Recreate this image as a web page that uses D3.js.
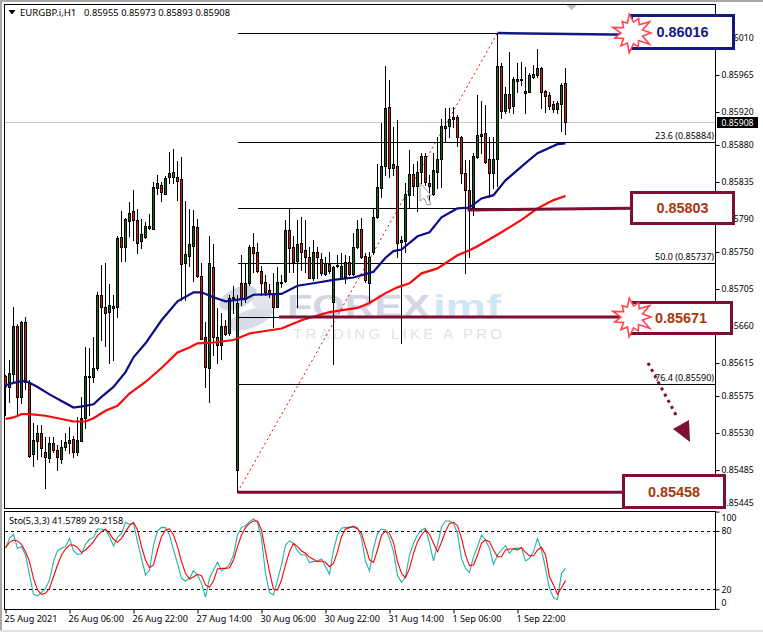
<!DOCTYPE html>
<html><head><meta charset="utf-8">
<script src="https://cdn.jsdelivr.net/npm/d3@7/dist/d3.min.js"></script>
<style>
html,body{margin:0;padding:0;background:#fff}
svg{display:block}
text{font-family:"Noto Sans",sans-serif;fill:#000}
</style></head><body><svg id="c" width="763" height="632"></svg>
<script>
// prices in points (1/100000)
const openPts=[85599,85586,85602,85660,85574,85665,85592,85504,85520,85530,
85507,85500,85518,85509,85498,85513,85517,85523,85506,85520,
85548,85599,85598,85609,85698,85683,85676,85684,85683,85768,
85756,85787,85800,85789,85763,85768,85781,85778,85828,85831,
85820,85841,85847,85841,85839,85736,85746,85757,85780,85721,
85647,85609,85732,85647,85637,85660,85651,85694,85485,85712,
85692,85712,85756,85750,85727,85713,85704,85700,85683,85713,
85715,85777,85756,85739,85761,85752,85744,85718,85750,85741,
85723,85735,85690,85733,85718,85718,85738,85723,85756,85778,
85745,85713,85750,85792,85828,85855,85926,85852,85855,85761,
85763,85819,85845,85830,85847,85866,85834,85820,85847,85863,
85903,85902,85911,85914,85890,85846,85825,85804,85865,85891,
85894,85863,85846,85863,85976,85921,85942,85927,85958,85960,
85943,85944,85962,85964,85973,85945,85941,85930,85924,85930,
85955];
const highPts=[85600,85619,85683,85662,85666,85671,85594,85542,85540,85540,
85525,85525,85525,85515,85521,85530,85537,85527,85549,85574,
85634,85633,85647,85701,85734,85736,85711,85698,85769,85800,
85791,85811,85825,85802,85790,85786,85796,85835,85843,85835,
85842,85871,85875,85860,85865,85812,85802,85801,85790,85736,
85665,85770,85760,85682,85676,85667,85698,85709,85698,85746,
85736,85758,85773,85761,85733,85722,85711,85724,85732,85722,
85789,85804,85770,85789,85792,85789,85756,85764,85756,85749,
85744,85750,85733,85746,85749,85746,85745,85773,85789,85791,
85749,85750,85803,85857,85907,85976,85959,85902,85910,85770,
85834,85874,85857,85860,85870,85870,85843,85870,85890,85911,
85925,85925,85926,85916,85891,85862,85862,85870,85941,85934,
85928,85890,85890,86016,85979,85950,85993,85962,85979,85981,
85975,85967,85977,85996,85975,85947,85944,85934,85934,85955,
85973];
const lowPts=[85552,85568,85591,85552,85566,85583,85501,85490,85498,85502,
85463,85495,85507,85485,85493,85509,85506,85501,85503,85520,
85536,85552,85592,85606,85643,85636,85615,85619,85671,85739,
85739,85770,85764,85749,85755,85767,85778,85778,85820,85812,
85820,85834,85834,85813,85692,85692,85733,85715,85719,85644,
85586,85568,85625,85615,85620,85649,85649,85676,85458,85685,
85689,85710,85726,85726,85698,85698,85695,85659,85683,85707,
85713,85726,85726,85683,85728,85726,85718,85716,85718,85722,
85722,85724,85614,85732,85718,85712,85722,85722,85755,85743,
85713,85689,85747,85791,85817,85843,85841,85843,85744,85639,
85750,85804,85819,85800,85834,85831,85808,85819,85828,85829,
85885,85890,85902,85879,85834,85724,85744,85795,85864,85870,
85858,85817,85828,85830,85913,85919,85920,85919,85944,85953,
85919,85944,85961,85962,85925,85920,85924,85920,85919,85897,
85893];
const closePts=[85587,85603,85660,85574,85665,85592,85502,85521,85530,85512,
85501,85518,85509,85500,85513,85519,85521,85507,85521,85548,
85599,85598,85609,85698,85683,85676,85685,85682,85767,85756,
85790,85797,85789,85761,85772,85781,85778,85829,85834,85822,
85840,85846,85841,85836,85736,85747,85760,85781,85721,85645,
85611,85736,85647,85637,85660,85650,85694,85695,85688,85692,
85712,85756,85749,85727,85712,85701,85700,85683,85713,85714,
85777,85755,85738,85760,85750,85744,85718,85750,85744,85724,
85736,85726,85732,85734,85733,85738,85724,85756,85778,85744,
85716,85744,85792,85829,85855,85925,85852,85857,85761,85764,
85820,85845,85830,85847,85866,85834,85830,85849,85863,85903,
85900,85911,85914,85890,85846,85825,85806,85866,85892,85893,
85859,85846,85863,85976,85921,85942,85925,85960,85960,85959,
85945,85965,85966,85973,85944,85939,85928,85924,85931,85953,
85908];
const maBlueBars=[0,2,4,5,6,8,11,14,17,20,22,24,27,30,32,35,39,43,47,49,52,55,58,60,62,69,73,77,82,87,92,95,97,99,103,106,109,113,116,119,122,125,130,133,138,140];
const maBluePts=[85588,85591,85593,85593,85591,85586,85577,85569,85561,85563,85565,85574,85586,85604,85622,85639,85667,85690,85701,85701,85695,85690,85692,85693,85698,85699,85709,85712,85716,85719,85726,85743,85751,85753,85769,85774,85792,85803,85804,85815,85819,85837,85858,85870,85881,85882];
const maRedBars=[0,2,4,6,10,14,17,20,22,25,28,31,35,39,43,46,48,52,57,59,61,69,74,81,88,91,95,98,101,104,108,113,116,118,124,129,133,137,140];
const maRedPts=[85547,85549,85553,85553,85551,85547,85544,85544,85548,85557,85563,85578,85592,85609,85628,85634,85639,85640,85643,85647,85651,85657,85667,85677,85682,85688,85700,85707,85712,85724,85730,85746,85752,85757,85774,85789,85803,85813,85818];
const stoMain=[62.2,72.5,76.6,62.2,63.9,55.4,34.8,14.9,13.2,16.9,21.0,29.6,48.5,59.8,62.2,63.9,72.5,59.5,56.0,56.4,66.3,71.5,73.2,82.1,82.1,81.1,74.2,64.6,73.5,77.6,89.0,86.9,87.9,69.1,51.9,34.8,39.9,65.6,80.0,83.8,83.5,75.9,60.5,46.8,31.3,28.6,31.3,39.2,34.8,26.2,11.8,31.3,39.9,47.8,39.2,41.6,45.7,55.4,75.9,83.8,85.5,89.7,92.4,89.0,72.5,36.5,16.6,14.2,29.6,45.1,65.6,69.8,67.4,
59.5,55.4,55.4,47.5,48.5,49.2,51.2,43.3,35.5,60.5,75.9,82.8,83.8,83.8,85.2,83.5,72.5,49.2,38.9,62.2,77.6,82.1,81.1,72.5,58.8,34.1,27.2,33.0,55.4,67.4,75.9,81.1,82.8,67.4,49.2,65.6,84.5,90.3,90.3,87.9,77.6,51.9,41.6,37.5,53.6,63.9,75.9,70.8,62.2,45.7,55.4,60.5,65.0,57.1,62.2,62.2,62.9,49.2,51.9,58.8,72.5,60.5,41.6,21.0,11.4,9.4,36.5,41.58];
const stoSignal=[62.9,68.4,70.8,69.8,66.3,58.8,48.5,31.3,19.3,14.9,15.9,21.0,33.0,45.1,55.4,61.5,65.6,65.6,63.2,57.8,60.5,64.6,69.1,75.2,79.4,81.8,77.6,71.5,68.4,72.5,79.4,85.5,89.0,81.1,63.9,50.2,42.3,45.1,60.5,74.2,81.1,82.1,75.9,63.9,48.5,36.5,30.7,33.0,35.5,34.1,24.5,22.1,28.6,41.0,41.6,41.6,42.3,50.2,63.9,75.9,83.5,87.9,90.3,90.3,81.1,58.8,38.2,20.0,19.3,29.6,45.1,58.8,67.4,
63.9,59.5,57.1,53.0,50.9,48.5,49.2,47.8,43.3,46.8,58.8,74.2,82.1,83.5,84.5,82.1,77.6,63.9,50.2,47.8,60.5,75.9,80.0,77.6,68.4,48.5,36.5,32.0,41.6,57.1,69.1,75.9,81.1,76.6,67.4,58.8,68.4,79.4,87.9,89.0,85.5,72.5,55.4,44.4,45.1,55.4,67.4,70.8,69.1,60.5,53.6,53.6,60.5,61.5,61.5,60.5,62.9,58.1,54.7,54.3,60.5,63.2,55.4,33.0,24.5,14.9,21.7,29.2158];
const priceTicks=[86010,85965,85920,85880,85835,85790,85750,85705,85660,85615,85575,85530,85485,85445];
const timeBars=[0,16,32,48,64,80,96,112,128];
const timeLabels=["25 Aug 2021","26 Aug 06:00","26 Aug 22:00","27 Aug 14:00","30 Aug 06:00","30 Aug 22:00","31 Aug 14:00","1 Sep 06:00","1 Sep 22:00"];
const stoTicks=[100,80,20,0];
const fibLevels=[86016,85884,85803,85737,85671,85590];
const fibLabels=[null,"23.6 (0.85884)",null,"50.0 (0.85737)",null,"76.4 (0.85590)"];
const fibBars=[58,123];
const fibHigh=86016, fibLow=85458, lastClose=85908;
const boxes=[{v:86016,label:"0.86016",kind:"blue"},{v:85803,label:"0.85803",kind:"red"},{v:85671,label:"0.85671",kind:"red"},{v:85458,label:"0.85458",kind:"red"}];
const headerName="EURGBP.i,H1", headerValues="0.85955 0.85973 0.85893 0.85908", stoTitle="Sto(5,3,3) 41.5789 29.2158";

const svg=d3.select("#c");
const x=d3.scaleLinear().domain([0,140]).range([5.5,565.5]);
const y=d3.scaleLinear().domain([85445,85965]).range([503,75]);
const ys=d3.scaleLinear().domain([0,100]).range([608.8,511.6]);
const NAVY="#14187e", MAROON="#7d0f30", TXT="#a8380e";
const rp=v=>Math.round(v)+.5;

// window edges
svg.append("rect").attr("x",0).attr("y",0).attr("width",763).attr("height",2).attr("fill","#a8a8a8");
svg.append("rect").attr("x",0).attr("y",0).attr("width",2).attr("height",632).attr("fill","#a8a8a8");
svg.append("rect").attr("x",0).attr("y",630).attr("width",763).attr("height",2).attr("fill","#e2e2e2");

svg.append("clipPath").attr("id","m").append("rect").attr("x",5).attr("y",5).attr("width",710).attr("height",503);

// watermark
const wm=svg.append("g");
wm.append("ellipse").attr("cx",238).attr("cy",298).attr("rx",20).attr("ry",10).attr("transform","rotate(-25 238 298)").attr("fill","#d4d6e2");
wm.append("ellipse").attr("cx",250).attr("cy",319).attr("rx",24).attr("ry",9).attr("transform","rotate(-20 250 319)").attr("fill","#d9dbe6");
wm.append("ellipse").attr("cx",266).attr("cy",302).attr("rx",14).attr("ry",8).attr("fill","#e3e5ee");
wm.append("text").attr("x",287).attr("y",317).attr("textLength",143).attr("lengthAdjust","spacingAndGlyphs")
  .style("font","bold 31px 'Liberation Sans'").style("fill","#d3d6e4").text("FOREX");
wm.append("text").attr("x",433).attr("y",317).attr("textLength",68).attr("lengthAdjust","spacingAndGlyphs")
  .style("font","bold 31px 'Liberation Sans'").style("fill","#cfe6f5").text("imf");
wm.append("text").attr("x",293).attr("y",339).attr("textLength",209)
  .style("font","15px 'Liberation Sans'").style("fill","#dfe2ea").text("TRADING LIKE A PRO");

// last price line
svg.append("line").attr("x1",5).attr("x2",715).attr("y1",rp(y(lastClose))).attr("y2",rp(y(lastClose))).attr("stroke","#c4c4c4");

// fib lines
const fibG=svg.append("g").attr("shape-rendering","crispEdges");
fibLevels.forEach((v,i)=>{
  fibG.append("line").attr("x1",x(fibBars[0])).attr("x2",i==0?x(fibBars[1]):715).attr("y1",rp(y(v))).attr("y2",rp(y(v))).attr("stroke","#000");
});
svg.append("line").attr("x1",x(fibBars[0])).attr("y1",y(fibLow)).attr("x2",x(fibBars[1])).attr("y2",y(fibHigh))
  .attr("stroke","#f00").attr("stroke-width",1).attr("stroke-dasharray","2,3");

// candles
const bars=d3.range(openPts.length);
const cg=svg.append("g").attr("shape-rendering","crispEdges").attr("clip-path","url(#m)");
cg.selectAll(".w").data(bars).join("line").attr("x1",x).attr("x2",x)
  .attr("y1",i=>Math.round(y(highPts[i]))).attr("y2",i=>Math.round(y(lowPts[i]))+1).attr("stroke","#000");
cg.selectAll(".b").data(bars).join("rect")
  .attr("x",i=>x(i)-1).attr("width",2)
  .attr("y",i=>rp(y(Math.max(openPts[i],closePts[i]))))
  .attr("height",i=>Math.max(1,Math.round(Math.abs(y(openPts[i])-y(closePts[i])))))
  .attr("fill",i=>closePts[i]>=openPts[i]?"#0b6b1c":"#e8141c").attr("stroke","#000");

// moving averages
const lineFrom=(bs,vs)=>d3.line().x(i=>x(bs[i])).y(i=>y(vs[i]))(d3.range(bs.length));
svg.append("path").attr("d",lineFrom(maRedBars,maRedPts)).attr("fill","none").attr("stroke","#f80a0a").attr("stroke-width",2.2);
svg.append("path").attr("d",lineFrom(maBlueBars,maBluePts)).attr("fill","none").attr("stroke","#0c0c86").attr("stroke-width",2.2);

// thick level lines
const thick=(x1,v1,x2,v2,c,w)=>svg.append("line").attr("x1",x1).attr("x2",x2).attr("y1",y(v1)).attr("y2",y(v2)).attr("stroke",c).attr("stroke-width",w);
thick(x(123),86016,632,86014,NAVY,2.5);
thick(x(116)-2,85801,632,85803,MAROON,3);
thick(279,85671,632,85671,MAROON,3);
thick(x(58),85458,624,85458,MAROON,3);

// cursor
svg.append("path").attr("d","M420,183 L431,195 L427,196 L431,204 L427,205 L424,198 L420,201 Z").attr("fill","#fff").attr("stroke","#808080").attr("stroke-width",.8);

// fib labels
fibLevels.forEach((v,i)=>{ if(fibLabels[i]) svg.append("text").attr("x",714).attr("y",y(v)-2.5).attr("text-anchor","end")
  .style("font-size","9px").text(fibLabels[i]); });

// dotted arrow
svg.append("line").attr("x1",648).attr("y1",363).attr("x2",676).attr("y2",415).attr("stroke",MAROON).attr("stroke-width",3).attr("stroke-dasharray","3,4");
svg.append("path").attr("d","M673,429 L689,420 L690,442 Z").attr("fill",MAROON);

// stochastic
const sg=svg.append("g");
[80,20].forEach(v=>sg.append("line").attr("x1",5).attr("x2",715).attr("y1",rp(ys(v))).attr("y2",rp(ys(v))).attr("stroke","#000").attr("stroke-dasharray","3,3").attr("shape-rendering","crispEdges"));
const sLine=a=>d3.line().x((d,i)=>x(i)).y(d=>ys(d))(a);
sg.append("path").attr("d",sLine(stoMain)).attr("fill","none").attr("stroke","#20b2aa").attr("stroke-width",1.1);
sg.append("path").attr("d",sLine(stoSignal)).attr("fill","none").attr("stroke","#f00").attr("stroke-width",1.1);

// axes
const axP=d3.axisRight(y).tickValues(priceTicks).tickFormat(d=>(d/1e5).toFixed(5)).tickSize(4).tickPadding(2);
const gP=svg.append("g").attr("transform","translate(715.5,0)").call(axP);
gP.select(".domain").remove();
gP.selectAll("text").style("font-size","8.7px");
gP.selectAll("line").attr("stroke","#000");
const axS=d3.axisRight(ys).tickValues(stoTicks).tickFormat(d=>d).tickSize(4).tickPadding(2);
const gS=svg.append("g").attr("transform","translate(715.5,0)").call(axS);
gS.select(".domain").remove();
gS.selectAll("text").style("font-size","8.7px").attr("transform",d=>d==100?"translate(0,6)":d==0?"translate(0,-6)":null);
const axT=d3.axisBottom(x).tickValues(timeBars).tickFormat((d,i)=>timeLabels[i]).tickSize(4).tickPadding(2);
const gT=svg.append("g").attr("transform","translate(0,609.5)").call(axT);
gT.select(".domain").remove();
gT.selectAll("text").attr("text-anchor","start").attr("dx",-1.5).style("font-size","9.1px");

// frames
const fr=svg.append("g").attr("fill","none").attr("stroke","#000").attr("shape-rendering","crispEdges");
fr.append("rect").attr("x",4.5).attr("y",4.5).attr("width",711).attr("height",504);
fr.append("rect").attr("x",4.5).attr("y",511.5).attr("width",711).attr("height",98);
svg.append("line").attr("x1",0).attr("x2",0);

// header texts
svg.append("path").attr("d","M8.5,10 L15.5,10 L12,14.5 Z").attr("fill","#000");
svg.append("text").attr("x",20).attr("y",16).style("font-size","9.6px").text(headerName);
svg.append("text").attr("x",84).attr("y",16).style("font-size","9.4px").text(headerValues);
svg.append("text").attr("x",9).attr("y",523.5).style("font-size","9.3px").text(stoTitle);
svg.append("path").attr("d","M566.5,5 L577,5 L571.5,10 Z").attr("fill","#bdbdbd");

// last price tag
svg.append("rect").attr("x",717).attr("y",117).attr("width",41).attr("height",11).attr("fill","#000");
svg.append("text").attr("x",737.5).attr("y",125.8).attr("text-anchor","middle").style("font-size","8.7px").style("fill","#fff").text((lastClose/1e5).toFixed(5));

// level boxes
const boxPos={86016:[631.5,15.5,102,33],85803:[631.5,192.5,102,31],85671:[630.5,302.5,101,31],85458:[623.5,475.5,101,32]};
boxes.forEach(b=>{
  const [bx,by,bw,bh]=boxPos[b.v], c=b.kind=="blue"?NAVY:MAROON;
  svg.append("rect").attr("x",bx).attr("y",by).attr("width",bw).attr("height",bh).attr("fill","#fff").attr("stroke",c).attr("stroke-width",3);
  svg.append("text").attr("x",bx+bw/2+(b.kind=="blue"?0:0)).attr("y",by+bh/2+5).attr("text-anchor","middle")
    .style("font","bold 14.4px 'Liberation Sans'").style("fill",b.kind=="blue"?NAVY:TXT).text(b.label);
});
// starbursts
const starR=[19,11,21,10,15,11,20,11,17,10,18,11,20,10,15,11,19,11,16,11,21,11];
[86016,85671].forEach(v=>{
  const pts=starR.map((r,i)=>{const a=i/starR.length*2*Math.PI; return [632+r*Math.cos(a),y(v)+r*Math.sin(a)];});
  svg.append("path").attr("d",d3.line()(pts)+"Z").attr("fill","#fff").attr("stroke","#ff4652").attr("stroke-width",1.6);
});
</script></body></html>
